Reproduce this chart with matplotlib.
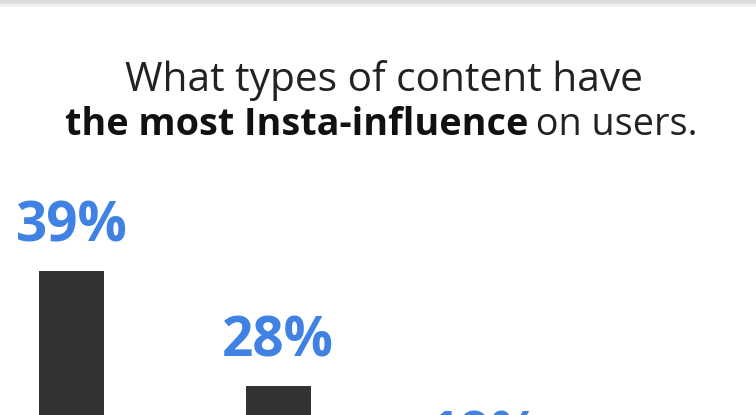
import matplotlib
matplotlib.use("Agg")
import matplotlib.pyplot as plt
from matplotlib.patches import Rectangle

values = [39, 28, 19]
labels = ["39%", "28%", "19%"]

title_line1 = "What types of content have"
title_bold = "the most Insta-influence"
title_rest = " on users."

BAR = "#333333"
BLUE = "#3f82e4"
FONT = "Open Sans"

W, H = 756, 415
fig = plt.figure(figsize=(W / 100, H / 100), dpi=100)
fig.patch.set_facecolor("white")
r = fig.canvas.get_renderer()


def fit_size(text, width, **kw):
    # font size that makes `text` about `width` px wide
    t = fig.text(0, 0, text, fontsize=20, family=FONT, **kw)
    w = t.get_window_extent(r).width
    t.remove()
    return 20 * width / w


# grey strip along the top edge
fig.add_artist(Rectangle((0, 1 - 4 / H), 1, 4 / H, transform=fig.transFigure,
                         facecolor="#dcdcdc", edgecolor="none"))
fig.add_artist(Rectangle((0, 1 - 7 / H), 1, 3 / H, transform=fig.transFigure,
                         facecolor="#efefef", edgecolor="none"))

# axes run off the bottom of the figure, zero line sits at y=680px
y0, y40 = 680, 260
ax = fig.add_axes([0, (H - y0) / H, 1, (y0 - y40) / H])
ax.set_ylim(0, 40)
ax.set_xlim(-71.5 / 206.5, (W - 71.5) / 206.5)
ax.axis("off")

lab_size = fit_size("39%", 112, fontweight="bold")
x = list(range(len(values)))
ax.bar(x, values, width=65 / 206.5, color=BAR)
for xi, v, lab in zip(x, values, labels):
    ax.annotate(lab, (xi, v), xytext=(0, 21), textcoords="offset points",
                ha="center", va="baseline", fontsize=lab_size, fontweight="bold",
                color=BLUE, family=FONT, annotation_clip=False)

# title
ts = fit_size(title_line1, 517)
fig.text(383.5 / W, (H - 91) / H, title_line1, ha="center", va="baseline",
         fontsize=ts, color="#222222", family=FONT)

tb = fig.text(0, (H - 135) / H, title_bold, ha="left", va="baseline",
              fontsize=ts, fontweight="bold", color="#111111", family=FONT)
tr = fig.text(0, (H - 135) / H, title_rest, ha="left", va="baseline",
              fontsize=ts, color="#222222", family=FONT)
wb = tb.get_window_extent(r).width
wr = tr.get_window_extent(r).width
k = 632 / (wb + wr)
tb.set_fontsize(ts * k)
tr.set_fontsize(ts * k)
wb *= k
wr *= k
left = 381 - (wb + wr) / 2
tb.set_x(left / W)
tr.set_x((left + wb) / W)

fig.savefig("out.png", dpi=100)
